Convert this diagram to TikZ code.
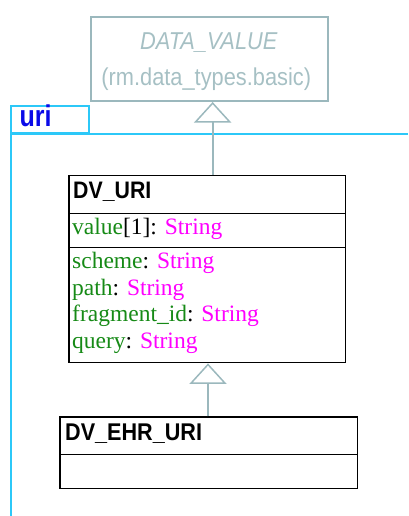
\documentclass[tikz,border=0pt]{standalone}
\usepackage{fontspec}
\usepackage{graphicx}
\setmainfont{Liberation Serif}
\setsansfont{Liberation Sans}
\usetikzlibrary{arrows.meta}
\definecolor{linkgray}{HTML}{9BB8BD}
\definecolor{faintgray}{HTML}{A6C0C4}
\definecolor{pkgcyan}{HTML}{2CC8F8}
\definecolor{pkgblue}{HTML}{0A0AE8}
\definecolor{attrgreen}{HTML}{168A16}
\definecolor{typemag}{HTML}{FF00FF}
% sans labels are set a little taller than the font's natural shape
\newcommand{\tallsans}[1]{\scalebox{1}[1.12]{#1}}
\begin{document}
\begin{tikzpicture}[x=1pt,y=-1pt,
  classbox/.style={draw=black, line width=1.4pt, inner sep=0pt, anchor=north west},
  classline/.style={draw=black, line width=1.4pt},
  parentbox/.style={draw=linkgray, line width=2pt, inner sep=0pt, anchor=north west},
  gen/.style={draw=linkgray, line width=2pt,
    -{Triangle[open, length=20.5pt, width=37pt, line width=1.5pt]}},
  pkg/.style={draw=pkgcyan, line width=2pt},
  txt/.style={inner sep=0pt, anchor=base west},
  title/.style={txt, font=\sffamily\bfseries\fontsize{21.3}{24}\selectfont},
  attr/.style={txt, font=\fontsize{23.5}{27}\selectfont}
]
\useasboundingbox (0,0) rectangle (408,516);

% package frame "uri"
\node[draw=pkgcyan, line width=2pt, inner sep=0pt, anchor=north west,
      minimum width=78pt, minimum height=27pt] (uritab) at (10,105) {};
\node[txt, text=pkgblue, font=\sffamily\bfseries\fontsize{25}{27}\selectfont]
      (urilabel) at (19.5,126.7) {\scalebox{1}[1.2]{uri}};
\coordinate (pkgcorner) at ([xshift=1pt]uritab.south west);
\draw[pkg] (uritab.south west) -- ++(398,0);
\draw[pkg] (pkgcorner) -- ++(0,384);

% parent class from another package
\node[parentbox, minimum width=237.5pt, minimum height=84.3pt] (datavalue) at (89.5,15.7) {};
\node[inner sep=0pt, anchor=base, text=faintgray,
      font=\sffamily\itshape\fontsize{21.8}{24}\selectfont]
      (dvname) at ([yshift=-33.6pt,xshift=-0.5pt]datavalue.north) {\tallsans{DATA\_VALUE}};
\node[inner sep=0pt, anchor=base, text=faintgray,
      font=\sffamily\fontsize{21.8}{24}\selectfont]
      (dvpkg) at ([yshift=-70.3pt,xshift=-3pt]datavalue.north) {\tallsans{(rm.data\_types.basic)}};

% DV_URI
\node[classbox, minimum width=276.7pt, minimum height=187pt] (dvuri) at (68.3,175) {};
\draw[classline] ([yshift=-38.3pt]dvuri.north west) -- ([yshift=-38.3pt]dvuri.north east);
\draw[classline] ([yshift=-72.3pt]dvuri.north west) -- ([yshift=-72.3pt]dvuri.north east);
\node[title] (dvurititle) at (73,198.3) {\tallsans{DV\_URI}};
\node[attr] (avalue) at (72,234.3)
  {\textcolor{attrgreen}{value}[1]: \textcolor{typemag}{String}};
\node[attr] (ascheme) at (72,268.3)
  {\textcolor{attrgreen}{scheme}: \textcolor{typemag}{String}};
\node[attr] (apath) at (72,295)
  {\textcolor{attrgreen}{path}: \textcolor{typemag}{String}};
\node[attr] (afrag) at (72,321.7)
  {\textcolor{attrgreen}{fragment\_id}: \textcolor{typemag}{String}};
\node[attr] (aquery) at (72,348.3)
  {\textcolor{attrgreen}{query}: \textcolor{typemag}{String}};

% DV_EHR_URI
\node[classbox, minimum width=297.4pt, minimum height=71.7pt] (ehruri) at (59.3,416.3) {};
\draw[classline] ([yshift=-38pt]ehruri.north west) -- ([yshift=-38pt]ehruri.north east);
\node[title, font=\sffamily\bfseries\fontsize{21.6}{24}\selectfont]
      (ehrtitle) at (65,440) {\tallsans{DV\_EHR\_URI}};

% generalisation links
\draw[gen] ([xshift=5.3pt]dvuri.north) -- ([xshift=5.3pt]dvuri.north |- datavalue.south);
\draw[gen] ([xshift=-0.7pt]ehruri.north) -- ([xshift=-0.7pt]ehruri.north |- dvuri.south);
\end{tikzpicture}
\end{document}
